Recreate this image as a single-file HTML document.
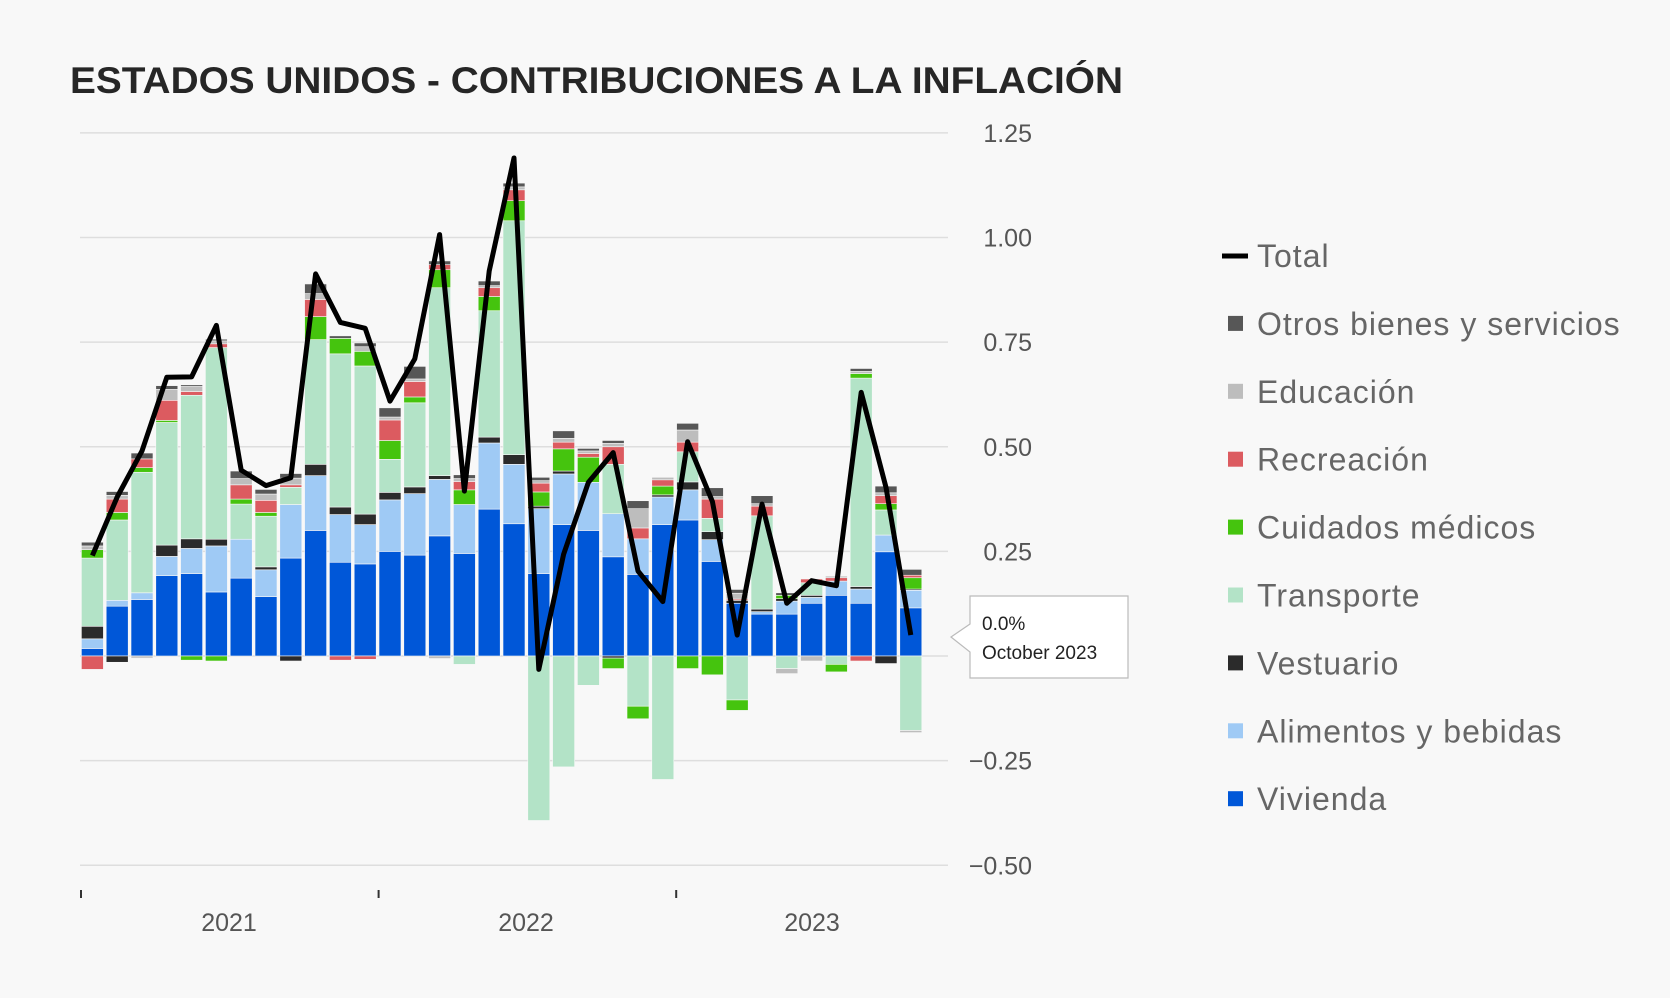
<!DOCTYPE html>
<html><head><meta charset="utf-8"><style>
body{margin:0;background:#f8f8f8;}
svg{display:block;font-family:"Liberation Sans",sans-serif;}
</style></head><body>
<svg id="chart" width="1670" height="998" viewBox="0 0 1670 998">
<rect x="0" y="0" width="1670" height="998" fill="#f8f8f8"/>
<text x="70" y="93" font-size="37" font-weight="bold" fill="#262626" textLength="1053" lengthAdjust="spacingAndGlyphs">ESTADOS UNIDOS - CONTRIBUCIONES A LA INFLACIÓN</text>
<g id="grid"></g><g id="bars"></g><g id="line"></g><g id="axes"></g><g id="legend"></g>
<g>
<path d="M970 596 H1128 V678 H970 V652 L951 637 L970 624 Z" fill="#fff" stroke="#bbb" stroke-width="1.2"/>
<text x="982" y="630" font-size="19" fill="#222">0.0%</text>
<text x="982" y="659" font-size="19" fill="#222">October 2023</text>
</g>
</svg>
<script>
const months = ["2021-01","2021-02","2021-03","2021-04","2021-05","2021-06","2021-07","2021-08","2021-09","2021-10","2021-11","2021-12","2022-01","2022-02","2022-03","2022-04","2022-05","2022-06","2022-07","2022-08","2022-09","2022-10","2022-11","2022-12","2023-01","2023-02","2023-03","2023-04","2023-05","2023-06","2023-07","2023-08","2023-09","2023-10"];
const vivienda   = [0.018,0.119,0.135,0.192,0.197,0.153,0.186,0.142,0.234,0.300,0.224,0.220,0.250,0.241,0.287,0.245,0.351,0.316,0.197,0.314,0.300,0.237,0.195,0.314,0.325,0.226,0.126,0.100,0.100,0.126,0.145,0.126,0.249,0.115];
const alimentos  = [0.023,0.014,0.016,0.046,0.060,0.110,0.093,0.064,0.128,0.131,0.114,0.094,0.123,0.147,0.135,0.117,0.158,0.142,0.155,0.121,0.115,0.103,0.085,0.066,0.072,0.052,0.000,0.006,0.031,0.014,0.034,0.034,0.040,0.042];
const vestuario  = [0.030,-0.015,0.000,0.027,0.023,0.016,0.000,0.007,-0.012,0.027,0.018,0.025,0.018,0.016,0.009,0.000,0.014,0.023,0.006,0.007,0.000,-0.005,0.000,0.005,0.019,0.019,0.007,0.006,0.006,0.005,0.000,0.006,-0.018,0.003];
const transporte = [0.163,0.192,0.288,0.293,0.343,0.458,0.084,0.121,0.041,0.298,0.366,0.354,0.079,0.201,0.449,-0.020,0.302,0.559,-0.393,-0.265,-0.070,0.118,-0.120,-0.295,0.072,0.032,-0.105,0.223,-0.030,0.030,-0.020,0.498,0.060,-0.178];
const medicos    = [0.020,0.018,0.011,0.005,-0.010,-0.012,0.012,0.009,0.000,0.055,0.037,0.035,0.045,0.014,0.043,0.035,0.034,0.048,0.034,0.053,0.060,-0.025,-0.030,0.021,-0.030,-0.045,-0.025,0.000,0.008,0.000,-0.018,0.011,0.015,0.027];
const recreacion = [-0.032,0.032,0.021,0.048,0.009,0.009,0.034,0.029,0.006,0.041,-0.010,-0.008,0.049,0.037,0.012,0.020,0.021,0.026,0.021,0.016,0.009,0.042,0.026,0.015,0.023,0.046,0.003,0.023,0.000,0.009,0.008,-0.012,0.019,0.006];
const educacion  = [0.009,0.009,-0.005,0.026,0.012,0.007,0.015,0.015,0.016,0.014,0.000,0.011,0.007,0.006,-0.006,0.007,0.005,0.007,0.006,0.009,0.006,0.008,0.046,0.006,0.029,0.006,0.014,0.006,-0.012,-0.012,0.004,0.005,0.007,-0.005];
const otros      = [0.009,0.009,0.014,0.009,0.004,0.004,0.018,0.011,0.011,0.023,0.006,0.009,0.022,0.030,0.009,0.009,0.011,0.009,0.008,0.018,0.006,0.007,0.019,0.000,0.016,0.021,0.009,0.019,0.006,0.000,0.000,0.007,0.016,0.014];
const total      = [0.24,0.38,0.49,0.666,0.667,0.79,0.444,0.407,0.426,0.913,0.797,0.783,0.609,0.71,1.007,0.394,0.92,1.19,-0.032,0.243,0.415,0.486,0.203,0.13,0.512,0.369,0.05,0.363,0.126,0.18,0.168,0.63,0.403,0.05];
const yTicks = [1.25,1.00,0.75,0.50,0.25,0,-0.25,-0.50];
const yTickLabels = ["1.25","1.00","0.75","0.50","0.25","","−0.25","−0.50"];
const yearLabels = ["2021","2022","2023"];

const NS="http://www.w3.org/2000/svg";
const X0=80, X1=948, SLOTS=35, SW=(X1-X0)/SLOTS, BW=22;
const yScale=v=>656-v*418.5;
const xCenter=i=>X0+(i+0.5)*SW;
function mk(tag,attrs,parent){const e=document.createElementNS(NS,tag);for(const k in attrs)e.setAttribute(k,attrs[k]);parent.appendChild(e);return e;}

const grid=document.getElementById('grid');
yTicks.forEach((t,i)=>{
  const l=mk('line',{x1:X0,x2:X1,y1:yScale(t),y2:yScale(t),stroke:'#dedede','stroke-width':1.5},grid);
  
  
  if(yTickLabels[i]){
    const tx=mk('text',{x:1032,y:yScale(t)+9,'font-size':25,fill:'#555','text-anchor':'end'},grid);
    tx.textContent=yTickLabels[i];
    
    
  }
});

const series=[
 {name:'Vivienda',data:vivienda,color:'#0057d8'},
 {name:'Alimentos y bebidas',data:alimentos,color:'#9fcaf5'},
 {name:'Vestuario',data:vestuario,color:'#2b2b2b'},
 {name:'Transporte',data:transporte,color:'#b3e3c7'},
 {name:'Cuidados médicos',data:medicos,color:'#45c40e'},
 {name:'Recreación',data:recreacion,color:'#dc5b60'},
 {name:'Educación',data:educacion,color:'#bdbdbd'},
 {name:'Otros bienes y servicios',data:otros,color:'#575757'}
];
const bars=document.getElementById('bars');
months.forEach((m,i)=>{
  let pos=0,neg=0;
  series.forEach(s=>{
    const v=s.data[i]; if(!v) return;
    let a,b;
    if(v>0){a=pos;b=pos+v;pos=b;}else{a=neg;b=neg+v;neg=b;}
    const y1=yScale(Math.max(a,b)), y2=yScale(Math.min(a,b));
    const r=mk('rect',{x:xCenter(i)-BW/2,y:y1,width:BW,height:Math.max(y2-y1,0.5),fill:s.color,stroke:'#f8f8f8','stroke-width':0.6},bars);
    
    
  });
});

const lineG=document.getElementById('line');
const pts=total.map((v,i)=>xCenter(i)+','+yScale(v)).join(' ');
const pl=mk('polyline',{points:pts,fill:'none',stroke:'#000','stroke-width':5,'stroke-linejoin':'round'},lineG);



const axes=document.getElementById('axes');
[0,12,24].forEach((s,k)=>{
  const x=X0+s*SW+1;
  const t=mk('line',{x1:x,x2:x,y1:890,y2:898,stroke:'#333','stroke-width':2},axes);
  
  
});
[229,526,812].forEach((x,k)=>{
  const t=mk('text',{x:x,y:931,'font-size':25,fill:'#555','text-anchor':'middle'},axes);
  t.textContent=yearLabels[k];
  
  
});

const leg=document.getElementById('legend');
const items=[{name:'Total',color:'#000',line:true}].concat(series.slice().reverse());
items.forEach((it,k)=>{
  const y=256+k*67.9;
  const g=mk('g',{},leg);
  
  
  if(it.line) mk('line',{x1:1222,x2:1248,y1:y,y2:y,stroke:'#000','stroke-width':5},g);
  else mk('rect',{x:1228,y:y-8,width:15,height:15,fill:it.color},g);
  const t=mk('text',{x:1257,y:y+11,'font-size':32,'letter-spacing':1,fill:'#666'},g);
  t.textContent=it.name;
});
</script>
</body></html>
